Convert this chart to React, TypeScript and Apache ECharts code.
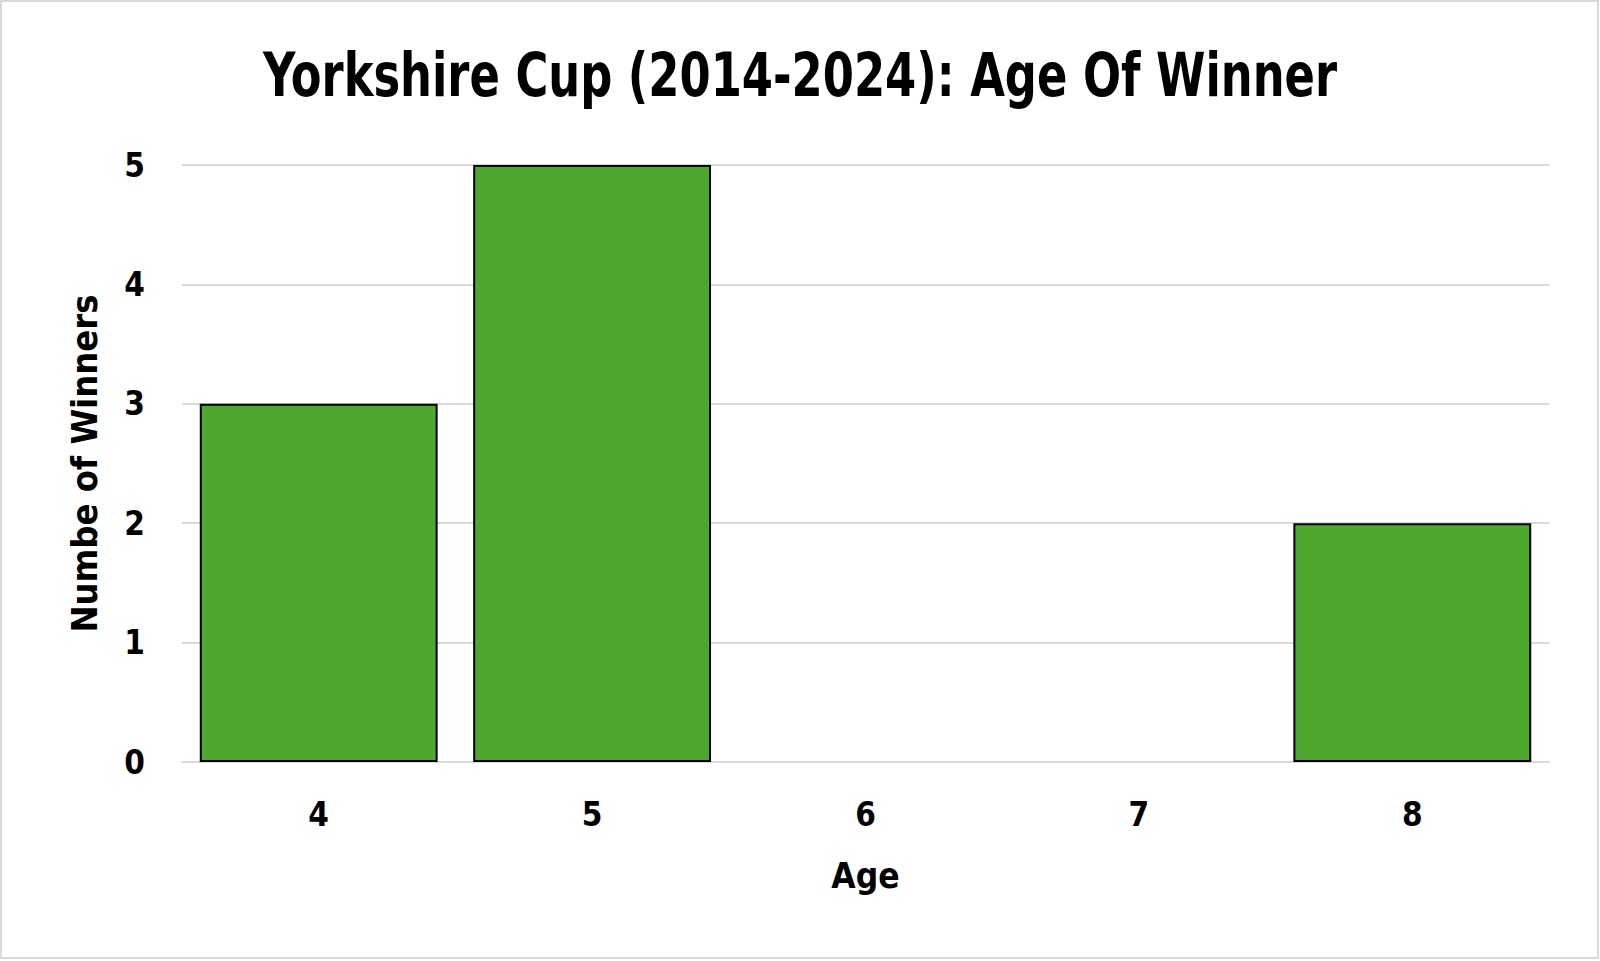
import React, { useEffect, useRef } from "react";
import * as echarts from "echarts";

const titleText = "Yorkshire Cup (2014-2024): Age Of Winner";
const ages = ["4", "5", "6", "7", "8"];
const winners = [3, 5, 0, 0, 2];
const yTicks = { min: 0, max: 5, interval: 1 };
const xName = "Age";
const yName = "Numbe of Winners";

export default function App() {
  const ref = useRef<HTMLDivElement>(null);
  useEffect(() => {
    if (!ref.current) return;
    const chart = echarts.init(ref.current, undefined, { renderer: "svg" });
    const labelFont = "'DejaVu Sans Condensed', 'DejaVu Sans', sans-serif";
    chart.setOption({
      animation: false,
      backgroundColor: "#ffffff",
      graphic: [
        {
          type: "rect",
          shape: { x: 1, y: 1, width: 1597, height: 957 },
          style: { fill: "none", stroke: "#d9d9d9", lineWidth: 2 },
          silent: true,
        },
        {
          type: "text",
          x: 800,
          y: 75,
          scaleX: 0.83,
          style: {
            text: titleText,
            fontFamily: labelFont,
            fontWeight: "bold",
            fontSize: 60,
            fill: "#000000",
            align: "center",
            verticalAlign: "middle",
          },
          silent: true,
        },
      ],
      grid: { left: 182, right: 51, top: 165, bottom: 199 },
      xAxis: {
        type: "category",
        data: ages,
        name: xName,
        nameLocation: "middle",
        nameGap: 96,
        nameTextStyle: { fontFamily: labelFont, fontWeight: "bold", fontSize: 35, color: "#000" },
        axisTick: { show: false },
        axisLine: { show: true, lineStyle: { color: "#d9d9d9", width: 2 } },
        axisLabel: { margin: 36, fontFamily: labelFont, fontWeight: "bold", fontSize: 33, color: "#000" },
      },
      yAxis: {
        type: "value",
        min: yTicks.min,
        max: yTicks.max,
        interval: yTicks.interval,
        name: yName,
        nameLocation: "middle",
        nameGap: 80,
        nameTextStyle: { fontFamily: labelFont, fontWeight: "bold", fontSize: 36, color: "#000" },
        axisLine: { show: false },
        axisTick: { show: false },
        splitLine: { lineStyle: { color: "#d9d9d9", width: 2 } },
        axisLabel: { margin: 37, fontFamily: labelFont, fontWeight: "bold", fontSize: 33, color: "#000" },
      },
      series: [
        {
          type: "bar",
          data: winners.map((v) =>
            v === 0 ? { value: v, itemStyle: { borderWidth: 0 } } : v
          ),
          barCategoryGap: "13%",
          itemStyle: { color: "#4ea72e", borderColor: "#000000", borderWidth: 2 },
        },
      ],
    });
    return () => chart.dispose();
  }, []);
  return (
    <div
      ref={ref}
      style={{ position: "fixed", left: 0, top: 0, width: 1600, height: 961 }}
    />
  );
}
